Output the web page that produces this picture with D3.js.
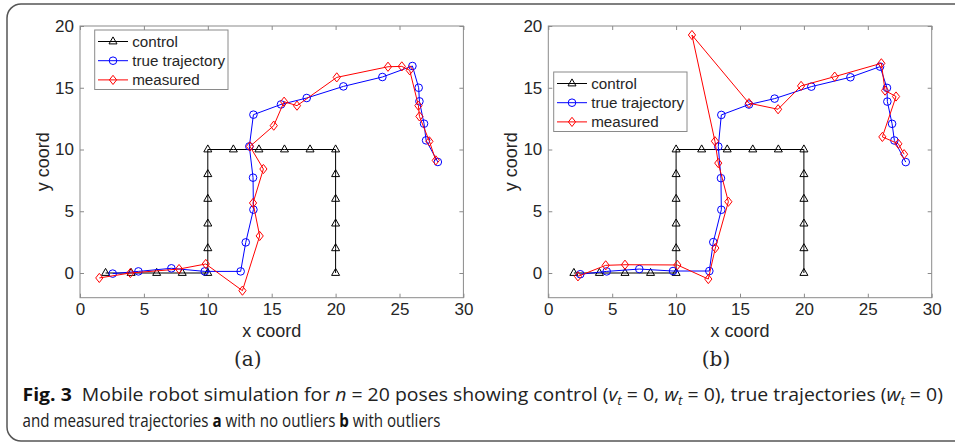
<!DOCTYPE html>
<html>
<head>
<meta charset="utf-8">
<script src="https://cdn.jsdelivr.net/npm/d3@7"></script>
<style>
body{margin:0;background:#fff}
svg text{fill:#262626}
</style>
</head>
<body>
<div id="chart-area"></div>
<script>
// tick values
const xTicks = [0, 5, 10, 15, 20, 25, 30];
const yTicks = [0, 5, 10, 15, 20];

// control poses (same in both panels)
const controlX = [2, 4, 6, 8, 10, 10, 10, 10, 10, 10, 12, 14, 16, 18, 20, 20, 20, 20, 20, 20];
const controlY = [0, 0, 0, 0, 0, 2, 4, 6, 8, 10, 10, 10, 10, 10, 10, 8, 6, 4, 2, 0];

// (a) no outliers
const trueAX = [2.56, 4.57, 7.15, 9.76, 12.57, 12.97, 13.57, 13.54, 13.25, 13.57, 15.73, 17.74, 20.61, 23.66, 26.01, 26.5, 26.56, 26.92, 27.08, 28.0];
const trueAY = [-0.05, 0.13, 0.38, 0.13, 0.13, 2.48, 5.13, 7.72, 10.25, 12.82, 13.65, 14.17, 15.11, 15.87, 16.76, 15.0, 13.9, 12.09, 10.74, 8.99];
const measAX = [1.51, 3.94, 7.75, 9.84, 12.71, 14.06, 13.54, 14.35, 13.3, 15.16, 15.97, 16.98, 20.09, 24.1, 25.18, 25.8, 26.48, 26.56, 27.34, 27.84];
const measAY = [-0.4, 0.0, 0.32, 0.73, -1.43, 3.0, 5.67, 8.42, 10.25, 11.93, 13.87, 13.55, 15.84, 16.7, 16.73, 16.41, 13.55, 12.68, 10.66, 9.12];

// (b) with outliers
const trueBX = [2.5, 4.57, 7.12, 9.76, 12.6, 12.91, 13.54, 13.51, 13.3, 13.54, 15.7, 17.71, 20.58, 23.64, 25.96, 26.5, 26.53, 26.9, 27.08, 27.97];
const trueBY = [-0.1, 0.13, 0.32, 0.16, 0.16, 2.5, 5.12, 7.68, 10.24, 12.8, 13.64, 14.12, 15.09, 15.85, 16.71, 14.99, 13.88, 12.08, 10.73, 8.98];
const measBX = [2.32, 4.49, 6.0, 10.1, 12.52, 13.07, 14.09, 13.3, 13.04, 11.24, 15.7, 17.98, 19.78, 22.41, 26.06, 26.35, 27.21, 26.14, 27.39, 27.84];
const measBY = [-0.27, 0.62, 0.67, 0.65, -0.49, 2.02, 5.77, 8.9, 10.67, 19.27, 13.75, 13.26, 15.15, 15.9, 16.98, 14.77, 14.29, 11.02, 10.46, 9.62];

const seriesNames = ["control", "true trajectory", "measured"];

const W = 955, H = 444;
const plotTop = 26, plotBottom = 297.7, plotW = 383.4;

const svg = d3.select("#chart-area").append("svg")
    .attr("width", W)
    .attr("height", H)

// outer rounded frame
svg.append("rect")
    .attr("x", 7).attr("y", 4)
    .attr("width", 1000).attr("height", 437)
    .attr("rx", 14)
    .attr("fill", "none")
    .attr("stroke", "#555")
    .attr("stroke-width", 1.5)

const tri = "M0,-4.6L4,2.4L-4,2.4Z";
const dia = "M0,-4.6L3.6,0L0,4.6L-3.6,0Z";

function marker(g, type, color, cx, cy) {
    if (type == "circle") {
        g.append("circle").attr("cx", cx).attr("cy", cy).attr("r", 3.8)
            .attr("fill", "none").attr("stroke", color).attr("stroke-width", 1)
    } else {
        g.append("path").attr("d", type == "tri" ? tri : dia)
            .attr("transform", `translate(${cx},${cy})`)
            .attr("fill", "none").attr("stroke", color).attr("stroke-width", 1)
    }
}

function drawPanel(left, series, legend, tag) {
    const x = d3.scaleLinear().domain([0, 30]).range([left, left + plotW]);
    const y = d3.scaleLinear().domain([-2, 20]).range([plotBottom, plotTop]);
    const g = svg.append("g");

    g.append("rect")
        .attr("x", x(0)).attr("y", y(20))
        .attr("width", x(30) - x(0)).attr("height", y(-2) - y(20))
        .attr("fill", "#fff")

    const font = "'Liberation Sans', Arial, sans-serif";
    const ax = [
        g.append("g").attr("transform", `translate(0,${plotBottom})`)
            .call(d3.axisBottom(x).tickValues(xTicks).tickSizeInner(-4).tickSizeOuter(0).tickPadding(5)),
        g.append("g").attr("transform", `translate(0,${plotTop})`)
            .call(d3.axisTop(x).tickValues(xTicks).tickSizeInner(-4).tickSizeOuter(0).tickFormat("")),
        g.append("g").attr("transform", `translate(${x(0)},0)`)
            .call(d3.axisLeft(y).tickValues(yTicks).tickSizeInner(-4).tickSizeOuter(0).tickPadding(6)),
        g.append("g").attr("transform", `translate(${x(30)},0)`)
            .call(d3.axisRight(y).tickValues(yTicks).tickSizeInner(-4).tickSizeOuter(0).tickFormat(""))
    ];
    ax.forEach(a => {
        a.select(".domain").remove();
        a.selectAll("line").attr("stroke", "#8a8a8a");
        a.selectAll("text").attr("font-family", font).attr("font-size", "17px").attr("fill", "#262626");
    });

    g.append("rect")
        .attr("x", x(0)).attr("y", y(20))
        .attr("width", x(30) - x(0)).attr("height", y(-2) - y(20))
        .attr("fill", "none").attr("stroke", "#8a8a8a").attr("stroke-width", 1)

    // axis titles
    g.append("text")
        .attr("x", (x(0) + x(30)) / 2).attr("y", 337)
        .attr("text-anchor", "middle")
        .attr("font-family", font).attr("font-size", "18px")
        .text("x coord")
    g.append("text")
        .attr("transform", `translate(${x(0) - 31},${(plotTop + plotBottom) / 2}) rotate(-90)`)
        .attr("text-anchor", "middle")
        .attr("font-family", font).attr("font-size", "18px")
        .text("y coord")

    // series
    const line = d3.line().x(d => x(d[0])).y(d => y(d[1]));
    series.forEach(s => {
        const pts = s.xs.map((v, i) => [v, s.ys[i]]);
        g.append("path").datum(pts)
            .attr("d", line)
            .attr("fill", "none").attr("stroke", s.color).attr("stroke-width", 1)
        pts.forEach(p => marker(g, s.type, s.color, x(p[0]), y(p[1])));
    });

    // legend
    const lg = g.append("g").attr("transform", `translate(${legend.x},${legend.y})`);
    lg.append("rect").attr("width", 133.3).attr("height", 59.5)
        .attr("fill", "#fff").attr("stroke", "#8a8a8a").attr("stroke-width", 1)
    series.forEach((s, i) => {
        const yy = 11.5 + i * 19.2;
        lg.append("line").attr("x1", 3.3).attr("x2", 33.3).attr("y1", yy).attr("y2", yy)
            .attr("stroke", s.color).attr("stroke-width", 1)
        marker(lg, s.type, s.color, 18.3, yy);
        lg.append("text").attr("x", 37.5).attr("y", yy).attr("dy", "0.35em")
            .attr("font-family", font).attr("font-size", "15.2px").attr("fill", "#000")
            .text(seriesNames[i])
    });

    // panel tag
    g.append("text")
        .attr("x", (x(0) + x(30)) / 2 - 24).attr("y", 366)
        .attr("text-anchor", "middle")
        .attr("font-family", "'DejaVu Serif', 'Liberation Serif', serif").attr("font-size", "20px")
        .attr("fill", "#222")
        .text(tag)
}

drawPanel(80, [
    {xs: controlX, ys: controlY, color: "#000", type: "tri"},
    {xs: trueAX, ys: trueAY, color: "#0000ff", type: "circle"},
    {xs: measAX, ys: measAY, color: "#ff0000", type: "dia"}
], {x: 94.7, y: 30}, "(a)");

drawPanel(548.3, [
    {xs: controlX, ys: controlY, color: "#000", type: "tri"},
    {xs: trueBX, ys: trueBY, color: "#0000ff", type: "circle"},
    {xs: measBX, ys: measBY, color: "#ff0000", type: "dia"}
], {x: 553.7, y: 72}, "(b)");

// caption: draw at natural width, then squeeze horizontally to the reference width
const capFont = "'Open Sans', 'Noto Sans', sans-serif";
function capLine(x0, y0, targetW, parts) {
    const gg = svg.append("g");
    const t = gg.append("text")
        .attr("x", 0).attr("y", 0)
        .attr("font-family", capFont).attr("font-size", "17.5px")
        .style("fill", "#222")
    let sub = false;
    parts.forEach(p => {
        const s = t.append("tspan").text(p[0]);
        if (p[1] == "i") s.attr("font-style", "italic");
        if (p[1] == "b") s.attr("font-weight", "bold").style("fill", "#111");
        if (p[1] == "gap") s.attr("dx", 9);
        if (p[1] == "s") {
            s.attr("font-style", "italic").attr("font-size", "12px").attr("dy", 4);
            sub = true;
        } else if (sub) {
            s.attr("dy", -4);
            sub = false;
        }
    });
    const w = t.node().getComputedTextLength();
    gg.attr("transform", `translate(${x0},${y0}) scale(${targetW / w},1)`);
}

capLine(22.5, 401, 911, [
    ["Fig. 3", "b"], ["Mobile robot simulation for ", "gap"], ["n", "i"], [" = 20 poses showing control ("],
    ["v", "i"], ["t", "s"], [" = 0, "], ["w", "i"], ["t", "s"], [" = 0), true trajectories ("],
    ["w", "i"], ["t", "s"], [" = 0)"]
]);
capLine(22.5, 427, 418, [
    ["and measured trajectories "], ["a", "b"], [" with no outliers "], ["b", "b"], [" with outliers"]
]);
</script>
</body>
</html>
